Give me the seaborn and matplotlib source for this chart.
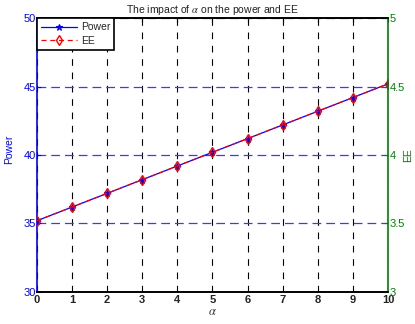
import matplotlib
matplotlib.use("Agg")
import matplotlib.pyplot as plt
import seaborn as sns
import pandas as pd

# alpha values and the two metrics
alpha = [0, 1, 2, 3, 4, 5, 6, 7, 8, 9, 10]
power = [35.2, 36.2, 37.2, 38.2, 39.2, 40.2, 41.2, 42.2, 43.2, 44.2, 45.2]
ee = [3.52, 3.62, 3.72, 3.82, 3.92, 4.02, 4.12, 4.22, 4.32, 4.42, 4.52]

sns.set_style("white")
plt.rcParams["font.family"] = ["Liberation Sans", "DejaVu Sans"]
plt.rcParams["mathtext.fontset"] = "stix"

df = pd.DataFrame({"alpha": alpha, "power": power, "ee": ee})

fig = plt.figure(figsize=(4.15, 3.24), dpi=100)
ax = fig.add_axes([0.089, 0.099, 0.846, 0.845])
ax2 = ax.twinx()

blue = "#0000ff"
green = "#008000"

sns.lineplot(data=df, x="alpha", y="power", ax=ax, color=blue, lw=0.9,
             marker="*", markersize=5, markeredgecolor=blue, label="Power",
             legend=False)
sns.lineplot(data=df, x="alpha", y="ee", ax=ax2, color="red", lw=0.9,
             linestyle=(0, (4, 3)), marker="d", markersize=5,
             markerfacecolor="none", markeredgecolor="red", markeredgewidth=1.0,
             label="EE", legend=False)

ax.set_xlim(0, 10)
ax.set_ylim(30, 50)
ax2.set_ylim(3, 5)
ax.set_xticks(alpha)
ax.set_yticks([30, 35, 40, 45, 50])
ax2.set_yticks([3, 3.5, 4, 4.5, 5])
ax2.set_yticklabels(["3", "3.5", "4", "4.5", "5"])

# grid: vertical black dashes, horizontal blue dashes
ax.grid(True, axis="x", color="black", lw=0.8, linestyle=(0, (6, 6)))
ax.grid(True, axis="y", color="#3a3aff", lw=0.9, linestyle=(0, (7, 4)))

for a in (ax, ax2):
    a.spines["top"].set_color("black")
    a.spines["bottom"].set_color("black")
    a.spines["top"].set_linewidth(1.2)
    a.spines["bottom"].set_linewidth(1.2)
ax.spines["left"].set_color(blue)
ax.spines["left"].set_linewidth(1.2)
ax2.spines["right"].set_color(green)
ax2.spines["right"].set_linewidth(1.2)
ax2.spines["left"].set_visible(False)
ax.spines["right"].set_visible(False)

ax.tick_params(axis="x", direction="in", length=3, colors="black",
               labelsize=8, pad=2, top=True)
for lbl in ax.get_xticklabels():
    lbl.set_fontweight("bold")
    lbl.set_color("#222222")
ax.tick_params(axis="y", direction="in", length=3, colors=blue,
               labelsize=8, pad=1, left=True)
ax2.tick_params(axis="y", direction="in", length=3, colors=green,
                labelsize=8, pad=1, right=True)
for lbl in ax2.get_yticklabels():
    lbl.set_verticalalignment("center_baseline")

ax.set_xlabel(r"$\alpha$", fontsize=9, labelpad=1, color="#333333")
ax.set_ylabel("Power", fontsize=7.5, color=blue, labelpad=4)
ax2.set_ylabel("EE", fontsize=7.5, color=green, labelpad=1)
ax.yaxis.set_label_coords(-0.064, 0.52)
ax2.yaxis.set_label_coords(1.042, 0.5)
ax.set_title(r"The impact of $\alpha$ on the power and EE", fontsize=7.5,
             pad=4, color="#222222")

h1, l1 = ax.get_legend_handles_labels()
h2, l2 = ax2.get_legend_handles_labels()
leg = ax2.legend(h1 + h2, l1 + l2, loc="upper left", fontsize=7.5,
                 frameon=True, fancybox=False, borderaxespad=0,
                 handlelength=3.4, handletextpad=0.4, borderpad=0.4,
                 labelspacing=0.35)
leg.get_frame().set_edgecolor("black")
leg.get_frame().set_linewidth(1.2)
leg.get_frame().set_alpha(1)

fig.savefig("out.png", dpi=100)
